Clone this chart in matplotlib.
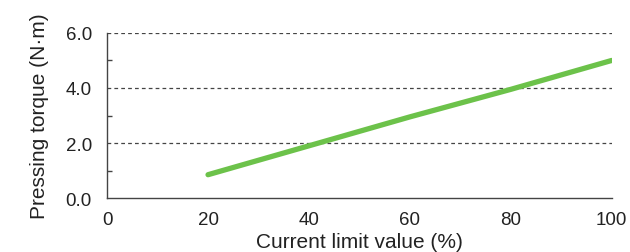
import matplotlib.pyplot as plt
from matplotlib.ticker import MultipleLocator

plt.rcParams["font.family"] = ["Liberation Sans", "DejaVu Sans"]

# current limit (%) vs pressing torque (N·m)
current_limit = [20, 40, 60, 80, 100]
torque = [0.85, 1.9, 2.95, 3.95, 5.0]
yticks = [0.0, 2.0, 4.0, 6.0]
xticks = [0, 20, 40, 60, 80, 100]

fig = plt.figure(figsize=(6.3, 2.53), dpi=100)
ax = fig.add_axes([0.170, 0.213, 0.801, 0.653])

ax.plot(current_limit, torque, color="#6cc24a", linewidth=3.8, solid_capstyle="round", zorder=3)

ax.set_xlim(0, 100)
ax.set_ylim(0, 6)
ax.set_xticks(xticks)
ax.set_yticks(yticks, [f"{v:.1f}" for v in yticks])
ax.yaxis.set_minor_locator(MultipleLocator(1))

for y in yticks[1:]:
    ax.axhline(y, color="#444444", linestyle=(0, (3, 2.5)), linewidth=0.9, zorder=1)

for s in ["top", "right"]:
    ax.spines[s].set_visible(False)
for s in ["left", "bottom"]:
    ax.spines[s].set_color("#444444")
    ax.spines[s].set_linewidth(1.0)

ax.tick_params(axis="both", which="major", length=0, labelsize=13.5, colors="#222222")
ax.tick_params(axis="y", which="major", pad=11)
ax.tick_params(axis="x", which="major", pad=9)
ax.tick_params(axis="y", which="minor", direction="in", length=3.5, color="#444444", width=1.0)

ax.set_xlabel("Current limit value (%)", fontsize=15, color="#222222", labelpad=3)
ax.set_ylabel("Pressing torque (N·m)", fontsize=15, color="#222222", labelpad=12)

fig.savefig("out.png", dpi=100)
